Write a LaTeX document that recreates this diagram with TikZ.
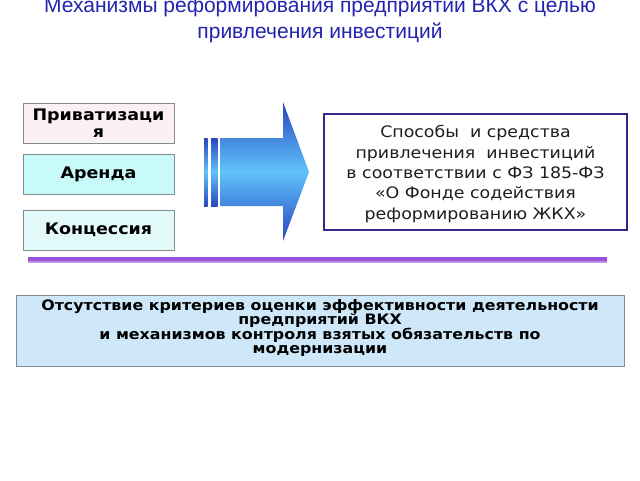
\documentclass[tikz,border=0pt]{standalone}
\usepackage{fontspec}
\setmainfont{DejaVu Sans}
\newfontfamily\titlefont{Liberation Sans}
\newfontfamily\widefont{DejaVu Sans}[FakeStretch=1.1]
\definecolor{titleblue}{RGB}{35,35,175}
\definecolor{pinkfill}{RGB}{250,240,246}
\definecolor{cyanfill}{RGB}{200,250,250}
\definecolor{paleCyan}{RGB}{226,250,250}
\definecolor{grayline}{RGB}{130,140,140}
\definecolor{darkframe}{RGB}{50,40,140}
\definecolor{purpleline}{RGB}{150,80,215}
\definecolor{lightblue}{RGB}{206,232,250}
\definecolor{arrowdark}{RGB}{40,70,190}
\definecolor{arrowlight}{RGB}{95,195,250}
\definecolor{textgray}{RGB}{30,30,30}
\tikzset{
  leftbox/.style={draw=grayline, line width=0.8pt, minimum width=151pt, minimum height=40pt,
    inner sep=0pt, font=\widefont\fontsize{15.9}{17}\selectfont\bfseries, align=center, text width=148pt},
  barshade/.style={draw=none, top color=arrowdark, bottom color=arrowdark, middle color=arrowlight}
}
\begin{document}
\begin{tikzpicture}[x=1pt,y=-1pt]
\useasboundingbox (0,0) rectangle (640,480);
% title
\node[font=\titlefont\fontsize{21}{26}\selectfont, text=titleblue, align=center] (title) at (320,20)
  {Механизмы реформирования предприятий ВКХ с целью\\привлечения инвестиций};
% left boxes
\node[leftbox, fill=pinkfill] (priv) at (98.5,123.5) {Приватизаци\\я};
\node[leftbox, fill=cyanfill] (arenda) at (98.5,174.5) {Аренда};
\node[leftbox, fill=paleCyan] (konc) at (98.5,230) {Концессия};
% arrow
\path[barshade] (204,138) rectangle (207.5,206);
\path[barshade] (211,138) rectangle (217.5,206);
\path[barshade] (220,138) -- (283,138) -- (283,102) -- (309,172) -- (283,241) -- (283,206) -- (220,206) -- cycle;
% right box
\node[draw=darkframe, line width=2.6pt, fill=white, minimum width=303pt, minimum height=116pt,
  inner sep=0pt, align=center, text=textgray, font=\widefont\fontsize{15.8}{20.3}\selectfont] (ways) at (475.5,172)
  {};
\node[align=center, text=textgray, font=\widefont\fontsize{15.8}{20.3}\selectfont, inner sep=0pt] (waystext) at (475.5,174)
  {Способы\ \ и средства\\привлечения\ \ инвестиций\\в соответствии с ФЗ 185-ФЗ\\«О Фонде содействия\\реформированию ЖКХ»};
% purple line
\node[inner sep=0pt, minimum width=579pt, minimum height=5pt, top color=purpleline, bottom color=purpleline!55,
  middle color=purpleline] (sep) at (317.5,259.5) {};
% bottom box
\node[draw=grayline, line width=0.8pt, fill=lightblue, minimum width=608pt, minimum height=71pt, inner sep=0pt] (lack) at (320,330.5) {};
\node[align=center, inner sep=0pt, font=\widefont\fontsize{14.4}{14.6}\selectfont\bfseries] (lacktext) at (320,328)
  {Отсутствие критериев оценки эффективности деятельности\\предприятий ВКХ\\и механизмов контроля взятых обязательств по\\модернизации};
\end{tikzpicture}
\end{document}
